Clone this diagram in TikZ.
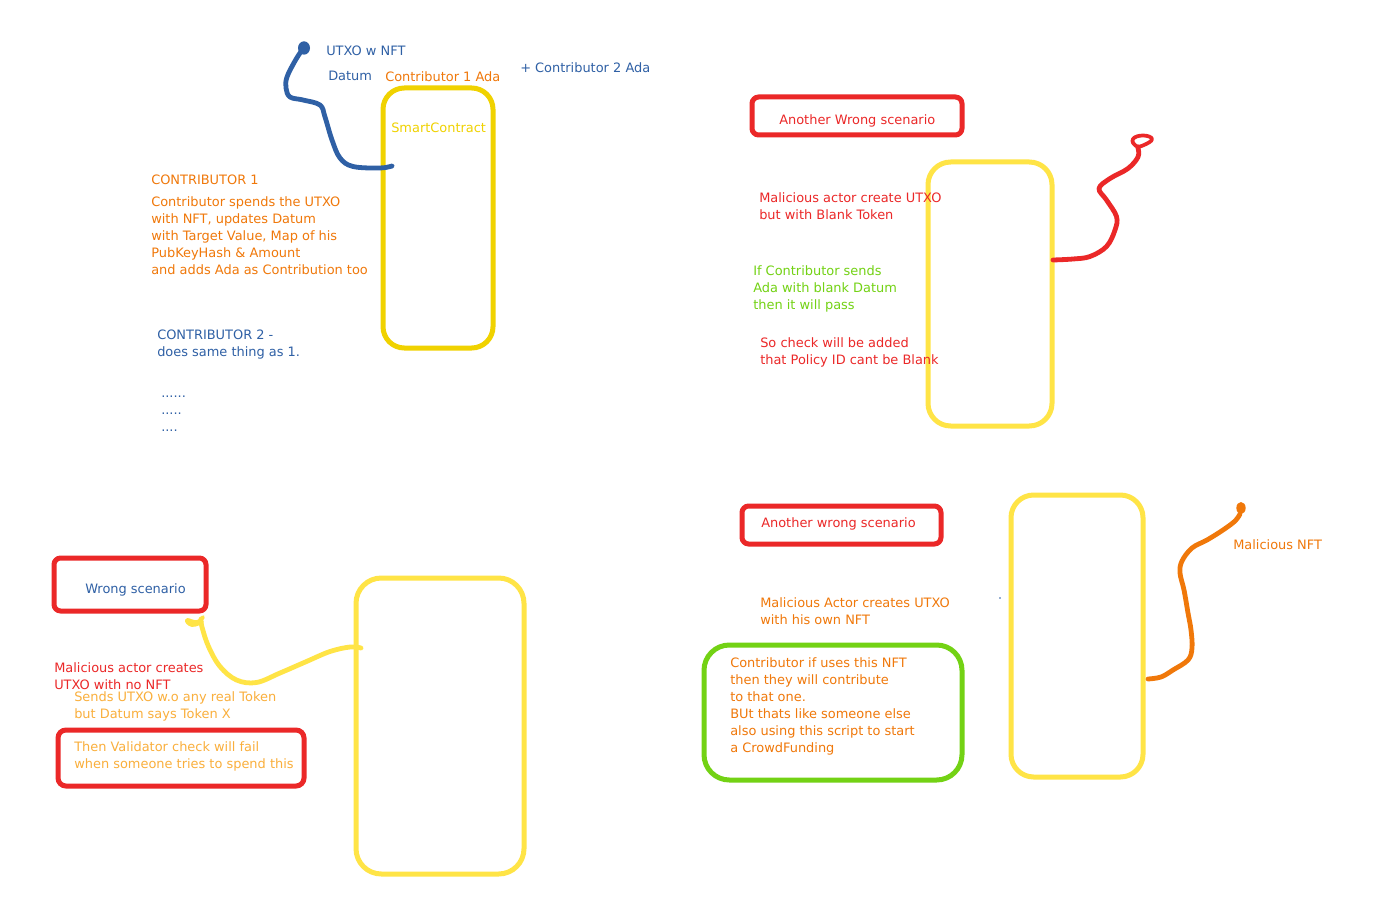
\documentclass[tikz,border=0pt]{standalone}
\usepackage{fontspec}
\setmainfont{DejaVu Sans}
\usepackage{xcolor}
\usepackage{tikz}
\usetikzlibrary{fit}

\definecolor{skblue}{RGB}{47,96,165}
\definecolor{skorange}{RGB}{240,120,10}
\definecolor{sklight}{RGB}{250,175,60}
\definecolor{skred}{RGB}{235,40,40}
\definecolor{skgreen}{RGB}{115,210,20}
\definecolor{skgold}{RGB}{240,210,0}
\definecolor{skyellow}{RGB}{255,228,70}

\begin{document}
\begin{tikzpicture}[x=0.75pt, y=-0.75pt, font=\fontsize{9.7}{12.75}\selectfont,
  txt/.style={anchor=west, align=left, inner sep=0pt},
  frame/.style={draw=#1, line width=3.75pt, inner sep=0pt},
  wire/.style={line width=3.6pt, line cap=round, line join=round}]
\useasboundingbox[fill=white] (0,0) rectangle (1391,916);

% contract boxes
\node[frame=skgold, rounded corners=16pt, fit={(383,88) (493,348)}] (sc1) {};
\node[frame=skyellow, rounded corners=17pt, fit={(928,162) (1052,426)}] (sc2) {};
\node[frame=skyellow, rounded corners=19pt, fit={(356,578) (524,874)}] (sc3) {};
\node[frame=skyellow, rounded corners=17pt, fit={(1011,495) (1143,777)}] (sc4) {};

% scenario boxes
\node[frame=skred, rounded corners=5pt, fit={(752,97) (962,135)}] (awbox) {};
\node[frame=skred, rounded corners=5pt, fit={(742,506) (941,544)}] (awbox2) {};
\node[frame=skred, rounded corners=5pt, fit={(54,558) (206,611)}] (wbox) {};
\node[frame=skred, rounded corners=6pt, fit={(58,730) (304,786)}] (failbox) {};
\node[frame=skgreen, rounded corners=19pt, fit={(704,645) (962,780)}] (nftbox) {};

% top left
\node[txt, text=skblue] (utxo) at (326,51) {UTXO w NFT};
\node[txt, text=skblue] (datum) at (328,76) {Datum};
\node[txt, text=skorange] (c1ada) at (385,77) {Contributor 1 Ada};
\node[txt, text=skblue] (c2ada) at (520,68) {+ Contributor 2 Ada};
\node[txt, text=skgold] (smart) at (391,128) {SmartContract};
\node[txt, text=skorange] (contrib1) at (151,180) {CONTRIBUTOR 1};
\node[txt, text=skorange] (c1desc) at (151,236) {Contributor spends the UTXO\\with NFT, updates Datum\\with Target Value, Map of his\\PubKeyHash \& Amount\\and adds Ada as Contribution too};
\node[txt, text=skblue] (contrib2) at (157,344.5) {CONTRIBUTOR 2 -\\does same thing as 1.};
\node[txt, text=skblue] (dots) at (161,414) {......\\.....\\....};

% top right
\node[txt, text=skred] (awrong) at (779,121) {Another Wrong scenario};
\node[txt, text=skred] (blank) at (759,206.5) {Malicious actor create UTXO\\but with Blank Token};
\node[txt, text=skgreen] (pass) at (753,289) {If Contributor sends\\Ada with blank Datum\\then it will pass};
\node[txt, text=skred] (check) at (760,352.5) {So check will be added\\that Policy ID cant be Blank};

% bottom left
\node[txt, text=skblue] (wrong) at (85,590) {Wrong scenario};
\node[txt, text=skred] (nonft) at (54,676.5) {Malicious actor creates\\UTXO with no NFT};
\node[txt, text=sklight] (sends) at (74,706.5) {Sends UTXO w.o any real Token\\but Datum says Token X};
\node[txt, text=sklight] (fail) at (74,756.5) {Then Validator check will fail\\when someone tries to spend this};

% bottom right
\node[txt, text=skred] (awrong2) at (761,524) {Another wrong scenario};
\node[txt, text=skorange] (malnft) at (1233,545) {Malicious NFT};
\node[txt, text=skorange] (ownnft) at (760,611.5) {Malicious Actor creates UTXO\\with his own NFT};
\node[txt, text=skorange] (uses) at (730,706.5) {Contributor if uses this NFT\\then they will contribute\\to that one.\\BUt thats like someone else\\also using this script to start\\a CrowdFunding};
\fill[skblue] (1000,598) circle (0.7pt);

% hand drawn strokes
\coordinate (bluein) at (392,166);
\coordinate (bluetip) at (302,50);
\draw[wire, skblue] plot[smooth, tension=0.6] coordinates {(bluein) (380,168) (353,166.5) (340,158) (332,140) (325,117) (320,105) (303,100) (290,97) (286,88) (287,77) (295,61) (bluetip)};
\fill[skblue] (304,48) ellipse[x radius=4.5pt, y radius=5pt];

\coordinate (redin) at (1053,260);
\coordinate (redtip) at (1138,148);
\draw[wire, skred] plot[smooth, tension=0.6] coordinates {(redin) (1073,259) (1090,256.5) (1106.5,246.5) (1115,230) (1116.5,216.5) (1106.5,200) (1099,188.5) (1110,178.5) (1128,168.5) (1138,157) (redtip)};
\draw[wire, skred, line width=2.8pt] plot[smooth cycle, tension=0.8] coordinates {(1136,146) (1133,139) (1143,135.5) (1152,139) (1144,145)};

\coordinate (yelin) at (361,648);
\coordinate (yeltip) at (201,619);
\draw[wire, skyellow] plot[smooth, tension=0.6] coordinates {(yelin) (350,647) (330,651.5) (306.5,661.5) (280,673) (256.5,682.5) (236.5,680) (220,666.5) (208.5,646.5) (202,627) (yeltip)};
\draw[wire, skyellow, line width=2.8pt] plot[smooth, tension=0.8] coordinates {(203,617) (197,622) (187,620) (192,625) (202,622)};

\coordinate (orin) at (1148,679);
\coordinate (ortip) at (1240,514);
\draw[wire, skorange] plot[smooth, tension=0.6] coordinates {(orin) (1161,677) (1173,670) (1188,660) (1192,648) (1191,630) (1188,613) (1184,590) (1180,573) (1182,561) (1192,548) (1207,540) (1223,530) (1235,521) (ortip)};
\fill[skorange] (1241,508) ellipse[x radius=3.5pt, y radius=4.5pt];
\end{tikzpicture}
\end{document}
